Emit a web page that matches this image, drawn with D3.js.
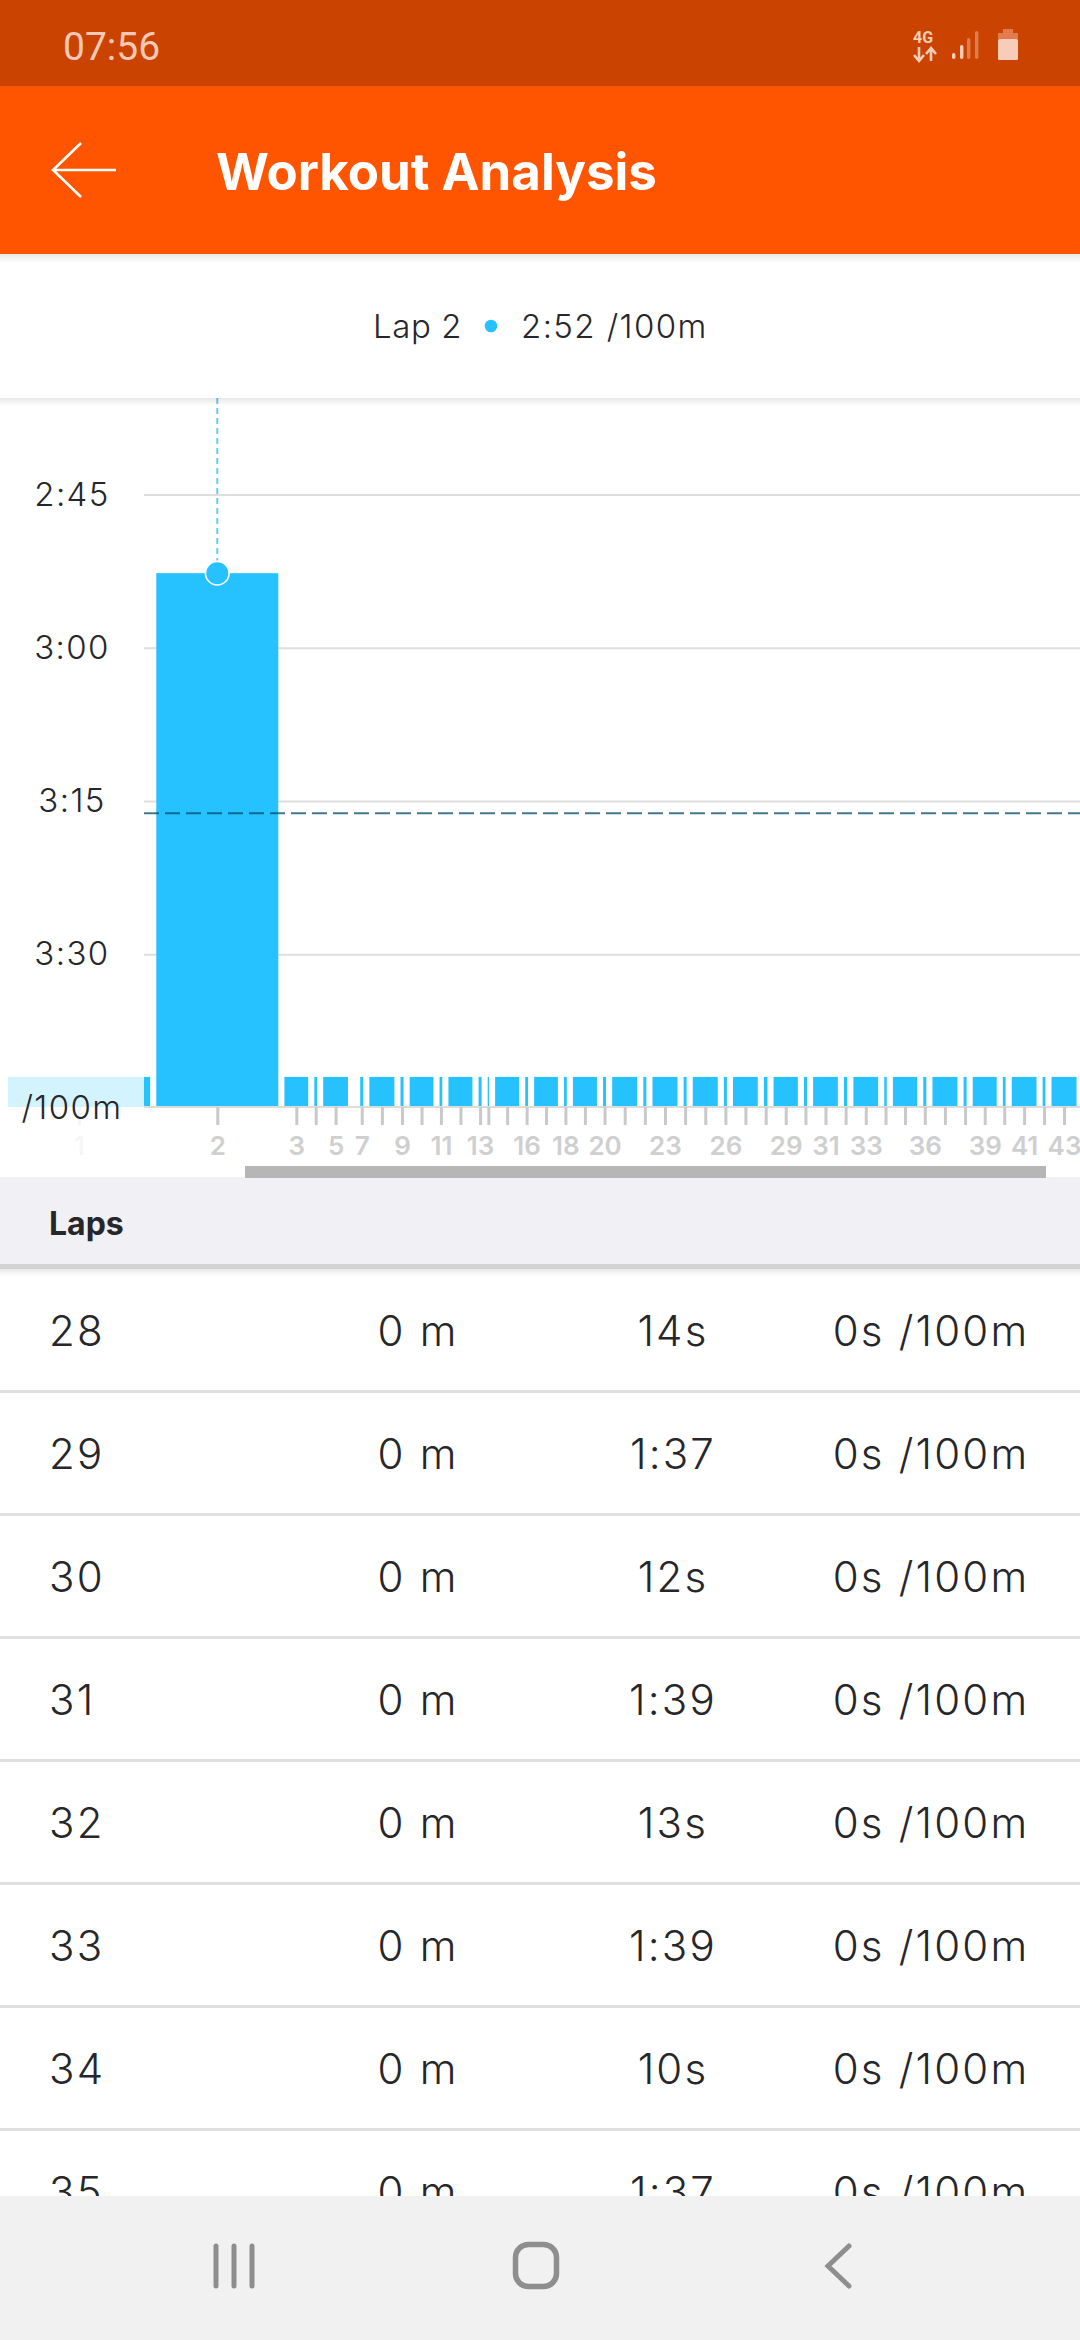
<!DOCTYPE html>
<html>
<head>
	<title>Workout Analysis</title>
	<script src="https://cdn.jsdelivr.net/npm/d3@7/dist/d3.min.js"></script>
	<style type="text/css">
		body{
			margin: 0;
			padding: 0;
			background: #fff;
		}
		svg{
			display: block;
			font-family: Inter, "Noto Sans", sans-serif;
		}
		.axis path{
			display: none;
		}
	</style>
</head>
<body>
	<svg id="svg" width="1080" height="2340" version="1.1" xmlns="http://www.w3.org/2000/svg"></svg>
	<script type="text/javascript">
		// laps, duration in seconds (drives bar width), pace in seconds per 100m
		const lapNumbers = d3.range(1, 44);
		const lapDurations = [569, 488, 95, 11, 99, 0, 12, 100, 12, 95, 11, 96, 12, 5, 96, 11, 95, 11, 96, 12, 100, 12, 100, 12, 100, 12, 99, 14, 97, 12, 99, 13, 99, 10, 97, 12, 100, 12, 96, 11, 99, 11, 100];
		const lapPace = [222, 172.7, 222, 222, 222, 222, 222, 222, 222, 222, 222, 222, 222, 222, 222, 222, 222, 222, 222, 222, 222, 222, 222, 222, 222, 222, 222, 222, 222, 222, 222, 222, 222, 222, 222, 222, 222, 222, 222, 222, 222, 222, 222];
		const labelledLaps = [1, 2, 3, 5, 7, 9, 11, 13, 16, 18, 20, 23, 26, 29, 31, 33, 36, 39, 41, 43];
		const paceTicks = [165, 180, 195, 210];
		const paceTickLabels = ['2:45', '3:00', '3:15', '3:30'];
		const averagePace = 196.2;
		const selectedLap = 2;

		// table rows under the chart
		const tableLaps = [28, 29, 30, 31, 32, 33, 34, 35];
		const tableDistance = ['0 m', '0 m', '0 m', '0 m', '0 m', '0 m', '0 m', '0 m'];
		const tableTime = ['14s', '1:37', '12s', '1:39', '13s', '1:39', '10s', '1:37'];
		const tablePace = ['0s /100m', '0s /100m', '0s /100m', '0s /100m', '0s /100m', '0s /100m', '0s /100m', '0s /100m'];

		const blue = '#26c1ff';
		const ink = '#26262b';
		const svg = d3.select('#svg');

		const defs = svg.append('defs');
		const shadow = defs.append('linearGradient').attr('id', 'shadow').attr('x2', 0).attr('y2', 1);
		shadow.append('stop').attr('offset', 0).attr('stop-color', '#000').attr('stop-opacity', .09);
		shadow.append('stop').attr('offset', 1).attr('stop-color', '#000').attr('stop-opacity', 0);

		// scales: pace runs downwards, lap width comes from its duration
		const y = d3.scaleLinear().domain([165, 210]).range([494.5, 954.3]);
		const w = d3.scaleLinear().domain([0, 100]).range([0, 25]);
		const baseY = 1107, axisX = 144, barGap = 6.14;

		let cursor = 7.9;
		const laps = lapNumbers.map((lap, i) => {
			const item = {lap, x: cursor, width: w(lapDurations[i]), pace: lapPace[i]};
			cursor += item.width + barGap;
			return item;
		});
		const xCentre = d3.scaleOrdinal(lapNumbers, laps.map(d => d.x + d.width / 2));

		drawGrid();
		drawBars();
		drawXAxis();
		drawYAxis();
		drawSummary();
		drawTable();
		drawChrome();

		function drawGrid(){
			const grid = svg.append('g')
				.attr('class', 'axis')
				.attr('transform', 'translate(' + axisX + ',0)')
				.call(d3.axisRight(y).tickValues(paceTicks).tickSize(1080 - axisX).tickFormat(''));
			grid.selectAll('line').attr('stroke', '#dedede').attr('stroke-width', 2);
		}

		function drawBars(){
			svg.append('g').selectAll('rect').data(laps).join('rect')
				.attr('x', d => d.x)
				.attr('y', d => y(d.pace))
				.attr('width', d => d.width)
				.attr('height', d => baseY - y(d.pace))
				.attr('fill', blue);

			svg.append('line')
				.attr('x1', axisX).attr('x2', 1080)
				.attr('y1', baseY).attr('y2', baseY)
				.attr('stroke', '#dcdcdc').attr('stroke-width', 2);

			// average pace
			svg.append('line')
				.attr('x1', axisX).attr('x2', 1080)
				.attr('y1', y(averagePace)).attr('y2', y(averagePace))
				.attr('stroke', 'rgba(0,75,105,.75)').attr('stroke-width', 2)
				.attr('stroke-dasharray', '15 6');

			// selected lap marker
			const sel = laps[selectedLap - 1];
			const selX = sel.x + sel.width / 2;
			svg.append('line')
				.attr('x1', selX).attr('x2', selX)
				.attr('y1', 398).attr('y2', y(sel.pace))
				.attr('stroke', '#66cdf0').attr('stroke-width', 2)
				.attr('stroke-dasharray', '6 4');
			svg.append('circle')
				.attr('cx', selX).attr('cy', y(sel.pace)).attr('r', 11.8)
				.attr('fill', blue).attr('stroke', '#fff').attr('stroke-width', 1.6);
		}

		function drawXAxis(){
			const axis = svg.append('g')
				.attr('class', 'axis')
				.attr('transform', 'translate(0,' + baseY + ')')
				.call(d3.axisBottom(xCentre)
					.tickValues(lapNumbers.filter((lap, i) => lapDurations[i] > 0))
					.tickSize(18)
					.tickPadding(12)
					.tickFormat(lap => labelledLaps.includes(lap) ? lap : ''));
			axis.selectAll('line').attr('stroke', '#c9c9c9').attr('stroke-width', 3);
			axis.selectAll('text')
				.attr('fill', '#cfcfcf')
				.style('font-family', 'Inter, sans-serif')
				.style('font-size', '26px')
				.style('font-weight', 600);
		}

		function drawYAxis(){
			// the scrolled chart slides under a pale panel that holds the pace labels
			svg.append('rect')
				.attr('x', 0).attr('y', 398).attr('width', axisX).attr('height', 767)
				.attr('fill', '#fff').attr('fill-opacity', .8);

			const axis = svg.append('g')
				.attr('class', 'axis')
				.attr('transform', 'translate(' + axisX + ',0)')
				.call(d3.axisLeft(y).tickValues(paceTicks).tickSize(0)
					.tickFormat((d, i) => paceTickLabels[i]));
			axis.selectAll('text')
				.attr('x', -72)
				.attr('text-anchor', 'middle')
				.attr('fill', ink)
				.style('font-family', 'Inter, sans-serif')
				.style('font-size', '33px')
				.style('font-weight', 300)
				.style('letter-spacing', '1.4px');

			svg.append('text')
				.attr('x', 72).attr('y', 1119)
				.attr('text-anchor', 'middle')
				.attr('fill', ink)
				.style('font-size', '33px')
				.style('font-weight', 300)
				.style('letter-spacing', '1.4px')
				.text('/100m');
		}

		function drawSummary(){
			svg.append('rect')
				.attr('x', 0).attr('y', 398).attr('width', 1080).attr('height', 8)
				.attr('fill', 'url(#shadow)');
			const line = svg.append('g')
				.attr('fill', ink)
				.style('font-size', '33px')
				.style('font-weight', 300);
			line.append('text').attr('x', 373).attr('y', 338).style('letter-spacing', '.6px').text('Lap 2');
			line.append('text').attr('x', 521).attr('y', 338).style('letter-spacing', '1.4px').text('2:52 /100m');
			svg.append('circle').attr('cx', 491).attr('cy', 326).attr('r', 6.3).attr('fill', blue);
		}

		function drawTable(){
			svg.append('rect')
				.attr('x', 0).attr('y', 1177).attr('width', 1080).attr('height', 87)
				.attr('fill', '#f0f0f5');
			svg.append('rect')
				.attr('x', 0).attr('y', 1264).attr('width', 1080).attr('height', 5)
				.attr('fill', '#d2d2d2');
			svg.append('rect')
				.attr('x', 0).attr('y', 1269).attr('width', 1080).attr('height', 7)
				.attr('fill', 'url(#shadow)');
			svg.append('text')
				.attr('x', 49).attr('y', 1235)
				.attr('fill', ink)
				.style('font-size', '32px')
				.style('font-weight', 700)
				.text('Laps');

			// scrollbar sits on top of the header edge
			svg.append('rect')
				.attr('x', 245).attr('y', 1166).attr('width', 801).attr('height', 12)
				.attr('fill', '#b6b6b6');

			const row = d3.scaleLinear().domain([0, 1]).range([1346, 1469]);
			const rows = svg.append('g').selectAll('g').data(tableLaps).join('g')
				.attr('transform', (d, i) => 'translate(0,' + row(i) + ')')
				.attr('fill', ink)
				.style('font-size', '42px')
				.style('font-weight', 300)
				.style('letter-spacing', '2.2px');
			rows.append('text').attr('x', 49).text(d => d);
			rows.append('text').attr('x', 418).attr('text-anchor', 'middle').text((d, i) => tableDistance[i]);
			rows.append('text').attr('x', 673).attr('text-anchor', 'middle').text((d, i) => tableTime[i]);
			rows.append('text').attr('x', 931).attr('text-anchor', 'middle').text((d, i) => tablePace[i]);
			rows.append('rect')
				.attr('x', 0).attr('y', 44).attr('width', 1080).attr('height', 3)
				.attr('fill', '#e0e0e0');
		}

		function drawChrome(){
			// status bar and toolbar
			svg.append('rect').attr('width', 1080).attr('height', 86).attr('fill', '#cb4300');
			svg.append('rect').attr('y', 86).attr('width', 1080).attr('height', 168).attr('fill', '#ff5500');
			svg.append('rect').attr('y', 254).attr('width', 1080).attr('height', 9).attr('fill', 'url(#shadow)');

			svg.append('text')
				.attr('x', 63).attr('y', 60)
				.attr('fill', '#f5c9b5')
				.style('font-family', 'Roboto, sans-serif')
				.style('font-size', '39px')
				.text('07:56');

			const pale = '#f5cdb9', dim = '#e27c4e';
			svg.append('text')
				.attr('x', 913).attr('y', 43)
				.attr('fill', pale)
				.style('font-family', 'Roboto, sans-serif')
				.style('font-size', '16px')
				.style('font-weight', 700)
				.text('4G');
			svg.append('path')
				.attr('d', 'M919 47V60M914 55L919 61L924 55M931 61V48M926 54L931 48L936 54')
				.attr('fill', 'none').attr('stroke', pale).attr('stroke-width', 2.6);
			const signal = [[952, 53, 6, pale], [960, 45, 14, pale], [967, 38, 21, dim], [975, 31, 28, dim]];
			signal.forEach(s => {
				svg.append('rect')
					.attr('x', s[0]).attr('y', s[1])
					.attr('width', 3.4).attr('height', s[2])
					.attr('rx', 1.7).attr('fill', s[3]);
			});
			svg.append('path').attr('d', 'M1003 29H1013V33H1018V39H998V33H1003Z').attr('fill', dim);
			svg.append('rect').attr('x', 998).attr('y', 39).attr('width', 20).attr('height', 21).attr('rx', 1.5).attr('fill', pale);

			svg.append('path')
				.attr('d', 'M81 143L53 170L81 197M53 170H116')
				.attr('fill', 'none').attr('stroke', '#fff').attr('stroke-width', 2.6);
			svg.append('text')
				.attr('x', 216).attr('y', 190)
				.attr('fill', '#fff')
				.style('font-size', '51px')
				.style('font-weight', 700)
				.text('Workout Analysis');

			// navigation bar
			svg.append('rect').attr('y', 2196).attr('width', 1080).attr('height', 144).attr('fill', '#f1f1f1');
			const gray = '#8e8e8e';
			[216, 234, 252].forEach(x => {
				svg.append('line')
					.attr('x1', x).attr('x2', x).attr('y1', 2246).attr('y2', 2286)
					.attr('stroke', gray).attr('stroke-width', 5).attr('stroke-linecap', 'round');
			});
			svg.append('rect')
				.attr('x', 515.5).attr('y', 2244.5).attr('width', 41).attr('height', 42).attr('rx', 13)
				.attr('fill', 'none').attr('stroke', gray).attr('stroke-width', 5.5);
			svg.append('path')
				.attr('d', 'M849 2246L828 2266L849 2286')
				.attr('fill', 'none').attr('stroke', gray).attr('stroke-width', 5).attr('stroke-linecap', 'round');
		}
	</script>
</body>
</html>
